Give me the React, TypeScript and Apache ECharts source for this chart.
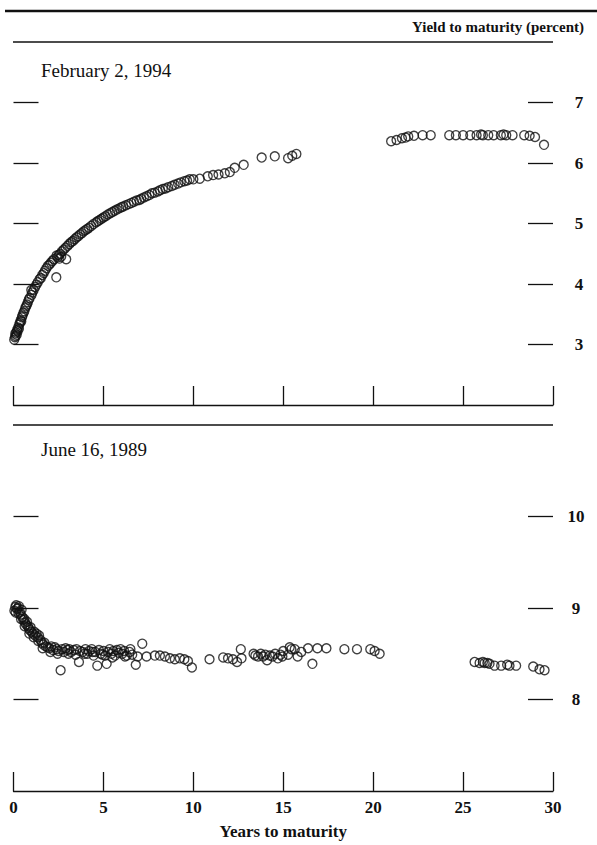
import { useEffect, useRef } from "react";
import * as echarts from "echarts";

// February 2, 1994 — [years to maturity, yield %]
const feb1994Short: [number, number][] = [
  [0.04, 3.08], [0.08, 3.12], [0.1, 3.18], [0.12, 3.14], [0.15, 3.2], [0.18, 3.16], [0.2, 3.24], [0.23, 3.22],
  [0.26, 3.28], [0.3, 3.26], [0.32, 3.33], [0.36, 3.36], [0.4, 3.4], [0.43, 3.38], [0.47, 3.45], [0.5, 3.48],
  [0.55, 3.52], [0.6, 3.55], [0.65, 3.6], [0.7, 3.63], [0.75, 3.66], [0.8, 3.7], [0.85, 3.74], [0.9, 3.77],
  [0.99, 3.9], [1.0, 3.82], [1.05, 3.86], [1.12, 3.9], [1.2, 3.95], [1.28, 3.99], [1.35, 4.03], [1.45, 4.08],
  [1.52, 4.1], [1.6, 4.15], [1.68, 4.18], [1.75, 4.22], [1.83, 4.26], [1.92, 4.3], [2.0, 4.32], [2.08, 4.35],
  [2.16, 4.38], [2.25, 4.41], [2.38, 4.11], [2.4, 4.47], [2.45, 4.44], [2.52, 4.48], [2.55, 4.42], [2.65, 4.45],
  [2.6, 4.5], [2.7, 4.54], [2.8, 4.57], [2.93, 4.41], [2.9, 4.6], [3.0, 4.63], [3.1, 4.66], [3.2, 4.69],
  [3.3, 4.71], [3.4, 4.74], [3.5, 4.77], [3.6, 4.79], [3.7, 4.82], [3.8, 4.84], [3.9, 4.87], [4.0, 4.89],
  [4.1, 4.91], [4.2, 4.93], [4.32, 4.96], [4.45, 4.99], [4.6, 5.02], [4.7, 5.04], [4.8, 5.06], [4.9, 5.08],
  [5.0, 5.1], [5.12, 5.12], [5.25, 5.15], [5.38, 5.17], [5.5, 5.19], [5.62, 5.21], [5.75, 5.23], [5.88, 5.25],
  [6.0, 5.27], [6.1, 5.28], [6.25, 5.3], [6.4, 5.32], [6.55, 5.34], [6.7, 5.36], [6.85, 5.38], [7.0, 5.39],
  [7.1, 5.41], [7.25, 5.43], [7.4, 5.45], [7.55, 5.47], [7.7, 5.5], [7.85, 5.51], [8.03, 5.53], [8.15, 5.55],
  [8.3, 5.57], [8.45, 5.58], [8.6, 5.6], [8.8, 5.62], [8.96, 5.64], [9.15, 5.66], [9.3, 5.68], [9.5, 5.7],
  [9.65, 5.71], [9.8, 5.73], [10.0, 5.73],
];
const feb1994Mid: [number, number][] = [
  [10.36, 5.74], [10.8, 5.78], [11.1, 5.8], [11.4, 5.81], [11.75, 5.83], [12.03, 5.85], [12.3, 5.92],
  [12.8, 5.97], [13.8, 6.09], [14.53, 6.11], [15.27, 6.08], [15.5, 6.12], [15.73, 6.15],
];
const feb1994Long: [number, number][] = [
  [21.0, 6.36], [21.3, 6.38], [21.6, 6.41], [21.8, 6.42], [21.95, 6.44], [22.27, 6.45], [22.75, 6.46],
  [23.2, 6.46], [24.23, 6.46], [24.6, 6.46], [25.0, 6.46], [25.4, 6.46], [25.75, 6.46], [26.0, 6.47],
  [26.1, 6.46], [26.4, 6.46], [26.7, 6.46], [27.1, 6.46], [27.25, 6.47], [27.4, 6.46], [27.75, 6.46],
  [28.4, 6.46], [28.7, 6.45], [29.0, 6.43], [29.5, 6.3],
];

// June 16, 1989 — [years to maturity, yield %]
const jun1989Short: [number, number][] = [
  [0.05, 8.97], [0.1, 9.01], [0.15, 9.03], [0.2, 8.99], [0.25, 9.0], [0.3, 9.02], [0.35, 8.96], [0.4, 8.93],
  [0.45, 8.98], [0.5, 8.9], [0.55, 8.87], [0.6, 8.88], [0.65, 8.84], [0.7, 8.82], [0.75, 8.85], [0.8, 8.8],
  [0.85, 8.78], [0.9, 8.76], [0.95, 8.79], [1.0, 8.74], [1.08, 8.72], [1.15, 8.74], [1.2, 8.7], [1.28, 8.72],
  [1.35, 8.68], [1.42, 8.7], [1.5, 8.65], [1.58, 8.62], [1.65, 8.6], [1.72, 8.62], [1.8, 8.58], [1.9, 8.57],
  [2.0, 8.56], [2.1, 8.58], [2.2, 8.54], [2.3, 8.57], [2.4, 8.55], [2.5, 8.53], [2.62, 8.32], [2.7, 8.55],
  [2.8, 8.52], [2.9, 8.56], [3.0, 8.54], [3.1, 8.55], [3.2, 8.52], [3.35, 8.54], [3.5, 8.55], [3.64, 8.41],
  [3.7, 8.53], [3.85, 8.52], [4.0, 8.55], [4.1, 8.5], [4.2, 8.53], [4.35, 8.55], [4.45, 8.48], [4.55, 8.52],
  [4.66, 8.37], [4.75, 8.54], [4.85, 8.5], [5.0, 8.53], [5.1, 8.48], [5.18, 8.39], [5.25, 8.52], [5.35, 8.55],
  [5.45, 8.5], [5.55, 8.53], [5.65, 8.48], [5.75, 8.54], [5.85, 8.51], [5.95, 8.55], [6.05, 8.5], [6.15, 8.53],
  [6.3, 8.48], [6.45, 8.52], [6.6, 8.49], [6.8, 8.38], [6.9, 8.47], [7.16, 8.61], [7.4, 8.47], [7.86, 8.48],
  [8.14, 8.48], [8.42, 8.47], [8.7, 8.45], [8.97, 8.44], [9.25, 8.45], [9.5, 8.44], [9.7, 8.42], [9.92, 8.35],
  [0.12, 8.95], [0.28, 8.94], [0.42, 8.88], [0.62, 8.8], [0.88, 8.72], [1.12, 8.68], [1.38, 8.64],
  [1.62, 8.56], [2.05, 8.52], [2.45, 8.5], [3.05, 8.5], [3.45, 8.49], [3.95, 8.5], [4.4, 8.52], [4.95, 8.49],
  [5.5, 8.46], [6.2, 8.47], [6.5, 8.55],
];
const jun1989Mid: [number, number][] = [
  [10.9, 8.44], [11.66, 8.46], [11.93, 8.45], [12.2, 8.44], [12.43, 8.41], [12.64, 8.55], [12.68, 8.45],
  [13.35, 8.5], [13.45, 8.48], [13.6, 8.47], [13.75, 8.5], [13.88, 8.47], [14.0, 8.49], [14.1, 8.43],
  [14.25, 8.48], [14.4, 8.47], [14.55, 8.5], [14.7, 8.45], [14.85, 8.49], [14.95, 8.47], [15.0, 8.53],
  [15.27, 8.49], [15.36, 8.57], [15.45, 8.55], [15.64, 8.55], [15.8, 8.47], [16.0, 8.52], [16.38, 8.56],
  [16.62, 8.39], [16.9, 8.56], [17.4, 8.56], [18.4, 8.55], [19.1, 8.55], [19.84, 8.55], [20.08, 8.53],
  [20.36, 8.5],
];
const jun1989Long: [number, number][] = [
  [25.64, 8.41], [25.92, 8.4], [26.1, 8.41], [26.2, 8.4], [26.35, 8.4], [26.47, 8.39], [26.75, 8.37],
  [27.12, 8.37], [27.45, 8.38], [27.58, 8.37], [27.95, 8.37], [28.9, 8.36], [29.25, 8.33], [29.53, 8.32],
];

const febTicks = [3, 4, 5, 6, 7];
const junTicks = [8, 9, 10];
const FONT = "'Liberation Serif', 'Times New Roman', serif";
const INK = "#111";

export default function App() {
  const ref = useRef<HTMLDivElement>(null);
  useEffect(() => {
    document.body.style.margin = "0";
    const chart = echarts.init(ref.current!, null, { renderer: "svg" });
    const lineStyle = { color: INK, width: 1.3 };
    const xBase = {
      type: "value" as const,
      min: 0,
      max: 30,
      interval: 5,
      axisLine: { show: true, onZero: false, lineStyle },
      axisTick: { show: true, inside: true, length: 19, lineStyle },
      splitLine: { show: false },
    };
    const yLeft = (grid: number, min: number, max: number, ticks: number[]) => ({
      type: "value" as const,
      gridIndex: grid,
      position: "left" as const,
      min,
      max,
      interval: 1,
      axisLine: { show: false },
      axisTick: { show: true, inside: true, length: 25, customValues: ticks, lineStyle },
      axisLabel: { show: false },
      splitLine: { show: false },
    });
    const yRight = (grid: number, min: number, max: number, ticks: number[], margin: number) => ({
      type: "value" as const,
      gridIndex: grid,
      position: "right" as const,
      min,
      max,
      interval: 1,
      axisLine: { show: false },
      axisTick: { show: true, inside: true, length: 25, customValues: ticks, lineStyle },
      axisLabel: {
        show: true,
        customValues: ticks,
        margin,
        align: "center" as const,
        color: INK,
        fontFamily: FONT,
        fontWeight: "bold" as const,
        fontSize: 17,
      },
      splitLine: { show: false },
    });
    const sym = {
      type: "scatter" as const,
      symbol: "circle",
      symbolSize: 9,
      itemStyle: { color: "rgba(0,0,0,0)", borderColor: INK, borderWidth: 1.35 },
      silent: true,
    };
    chart.setOption({
      animation: false,
      backgroundColor: "#fff",
      grid: [
        { left: 13.5, right: 44, top: 42, height: 363 },
        { left: 13.5, right: 44, top: 425, height: 366 },
      ],
      xAxis: [
        { ...xBase, gridIndex: 0, axisLabel: { show: false } },
        {
          ...xBase,
          gridIndex: 1,
          axisLabel: { show: true, color: INK, fontFamily: FONT, fontWeight: "bold", fontSize: 17, margin: 8 },
          name: "Years to maturity",
          nameLocation: "middle",
          nameGap: 32,
          nameTextStyle: { color: INK, fontFamily: FONT, fontWeight: "bold", fontSize: 17 },
        },
      ],
      yAxis: [
        yLeft(0, 2, 8, febTicks),
        yRight(0, 2, 8, febTicks, 26),
        yLeft(1, 7, 11, junTicks),
        yRight(1, 7, 11, junTicks, 23),
      ],
      series: [
        { ...sym, name: "Feb 1994 short", xAxisIndex: 0, yAxisIndex: 1, data: feb1994Short },
        { ...sym, name: "Feb 1994 mid", xAxisIndex: 0, yAxisIndex: 1, data: feb1994Mid },
        { ...sym, name: "Feb 1994 long", xAxisIndex: 0, yAxisIndex: 1, data: feb1994Long },
        { ...sym, name: "Jun 1989 short", xAxisIndex: 1, yAxisIndex: 3, data: jun1989Short },
        { ...sym, name: "Jun 1989 mid", xAxisIndex: 1, yAxisIndex: 3, data: jun1989Mid },
        { ...sym, name: "Jun 1989 long", xAxisIndex: 1, yAxisIndex: 3, data: jun1989Long },
      ],
      graphic: [
        { type: "line", shape: { x1: 5, y1: 11, x2: 597, y2: 11 }, style: { stroke: INK, lineWidth: 2.5 } },
        {
          type: "text",
          x: 584,
          y: 27,
          style: {
            text: "Yield to maturity (percent)",
            fill: INK,
            font: `bold 15px ${FONT}`,
            textAlign: "right",
            textVerticalAlign: "middle",
          },
        },
        { type: "line", shape: { x1: 13, y1: 42, x2: 553, y2: 42 }, style: { stroke: INK, lineWidth: 1.3 } },
        {
          type: "text",
          x: 41,
          y: 70,
          style: { text: "February 2, 1994", fill: INK, font: `19px ${FONT}`, textAlign: "left", textVerticalAlign: "middle" },
        },
        { type: "line", shape: { x1: 13, y1: 425, x2: 553, y2: 425 }, style: { stroke: INK, lineWidth: 1.3 } },
        {
          type: "text",
          x: 41,
          y: 449,
          style: { text: "June 16, 1989", fill: INK, font: `19px ${FONT}`, textAlign: "left", textVerticalAlign: "middle" },
        },
      ],
    });
    return () => chart.dispose();
  }, []);
  return <div ref={ref} style={{ width: 597, height: 845 }} />;
}
